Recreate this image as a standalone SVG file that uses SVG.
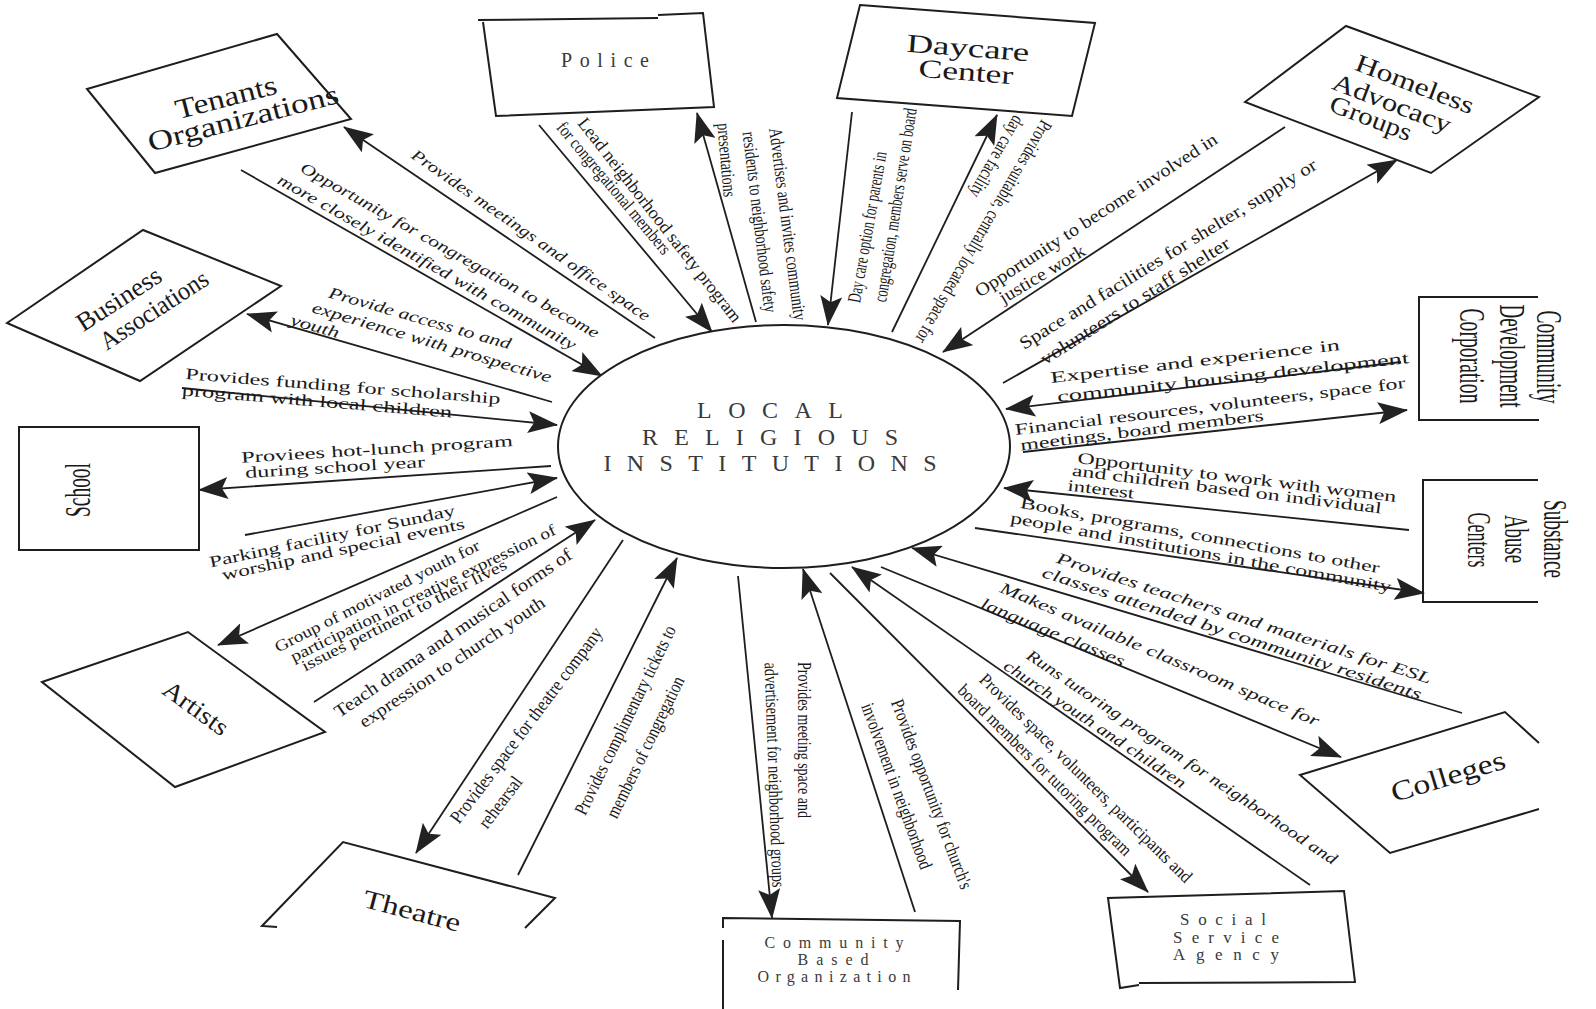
<svg xmlns="http://www.w3.org/2000/svg" width="1596" height="1009" viewBox="0 0 1596 1009">
<style>
.bg{fill:#fff}
.shape{fill:#fff;stroke:#1e1e1e;stroke-width:2}
.open{fill:none;stroke:#1e1e1e;stroke-width:2}
.edge{fill:none;stroke:#1e1e1e;stroke-width:1.8}
.arr{marker-end:url(#ah)}
text{font-family:"Liberation Serif","Times New Roman",serif;fill:#1a1a1a}
.nt{text-anchor:middle;dominant-baseline:central}
.sp{text-anchor:middle;fill:#3a3a3a}
.lab{text-anchor:middle;dominant-baseline:central}
.li{font-size:16px;font-style:italic}
.lu{font-size:16px}
.ld{font-size:18px}
.ls{font-size:19px}
</style>
<defs>
<marker id="ah" markerUnits="userSpaceOnUse" markerWidth="30" markerHeight="22" viewBox="0 0 30 22" refX="29" refY="11" orient="auto">
<path d="M0,0 L30,11 L0,22 L6,11 Z" fill="#222"/>
</marker>
</defs>
<rect class="bg" x="0" y="0" width="1596" height="1009"/>

<g id="connectors">
<path class="edge arr" d="M655,338 L344,127"/>
<path class="edge arr" d="M241,170 L602,376"/>
<path class="edge arr" d="M552,402 L247,314"/>
<path class="edge arr" d="M182,388 L557,425"/>
<path class="edge arr" d="M551,466 L199,490"/>
<path class="edge arr" d="M245,535 L557,478"/>
<path class="edge arr" d="M557,497 L218,645"/>
<path class="edge arr" d="M314,702 L595,520"/>
<path class="edge arr" d="M623,540 L416,853"/>
<path class="edge arr" d="M518,875 L677,558"/>
<path class="edge arr" d="M738,576 L772,918"/>
<path class="edge arr" d="M915,912 L803,569"/>
<path class="edge arr" d="M1310,885 L852,567"/>
<path class="edge arr" d="M830,573 L1148,892"/>
<path class="edge arr" d="M1462,713 L912,548"/>
<path class="edge arr" d="M881,567 L1341,757"/>
<path class="edge arr" d="M1409,530 L1004,488"/>
<path class="edge arr" d="M975,528 L1424,593"/>
<path class="edge arr" d="M1401,362 L1006,409"/>
<path class="edge arr" d="M1023,452 L1407,410"/>
<path class="edge arr" d="M1285,127 L943,352"/>
<path class="edge arr" d="M1003,383 L1397,160"/>
<path class="edge arr" d="M852,112 L828,325"/>
<path class="edge arr" d="M892,332 L997,115"/>
<path class="edge arr" d="M539,125 L712,332"/>
<path class="edge arr" d="M756,322 L697,113"/>
</g>

<g id="labels">
<text class="lab li" transform="translate(531,235) rotate(35)" textLength="287" lengthAdjust="spacingAndGlyphs">Provides meetings and office space</text>
<text class="lab li" transform="translate(450,250) rotate(29.5)" textLength="340" lengthAdjust="spacingAndGlyphs">Opportunity for congregation to become</text>
<text class="lab li" transform="translate(427,262) rotate(29.5)" textLength="340" lengthAdjust="spacingAndGlyphs">more closely identified with community</text>
<text class="lab li" transform="translate(420,318) rotate(16)" textLength="189" lengthAdjust="spacingAndGlyphs">Provide access to and</text>
<text class="lab li" transform="translate(432,342) rotate(16.5)" textLength="249" lengthAdjust="spacingAndGlyphs">experience with prospective</text>
<text class="lab li" transform="translate(315,326) rotate(16)" textLength="50" lengthAdjust="spacingAndGlyphs">youth</text>
<text class="lab lu" transform="translate(343,386) rotate(4.5)" textLength="316" lengthAdjust="spacingAndGlyphs">Provides funding for scholarship</text>
<text class="lab lu" transform="translate(317,401) rotate(4.7)" textLength="271" lengthAdjust="spacingAndGlyphs">program with local children</text>
<text class="lab lu" transform="translate(377,449) rotate(-3.5)" textLength="272" lengthAdjust="spacingAndGlyphs">Proviees hot-lunch program</text>
<text class="lab lu" transform="translate(335,467) rotate(-3.5)" textLength="180" lengthAdjust="spacingAndGlyphs">during school year</text>
<text class="lab lu" transform="translate(332,536) rotate(-12)" textLength="251" lengthAdjust="spacingAndGlyphs">Parking facility for Sunday</text>
<text class="lab lu" transform="translate(343,549) rotate(-12)" textLength="248" lengthAdjust="spacingAndGlyphs">worship and special events</text>
<text class="lab lu" transform="translate(377,596) rotate(-27)" textLength="228" lengthAdjust="spacingAndGlyphs">Group of motivated youth for</text>
<text class="lab lu" transform="translate(423,593) rotate(-26)" textLength="293" lengthAdjust="spacingAndGlyphs">participation in creative expression of</text>
<text class="lab lu" transform="translate(404,615) rotate(-27)" textLength="228" lengthAdjust="spacingAndGlyphs">issues pertinent to their lives</text>
<text class="lab ld" transform="translate(453,633) rotate(-34.5)" textLength="284" lengthAdjust="spacingAndGlyphs">Teach drama and musical forms of</text>
<text class="lab ld" transform="translate(452,662) rotate(-34)" textLength="220" lengthAdjust="spacingAndGlyphs">expression to church youth</text>
<text class="lab ls" transform="translate(526,725) rotate(-53)" textLength="240" lengthAdjust="spacingAndGlyphs">Provides space for theatre company</text>
<text class="lab ls" transform="translate(500,802) rotate(-53)" textLength="60" lengthAdjust="spacingAndGlyphs">rehearsal</text>
<text class="lab ls" transform="translate(625,720) rotate(-64)" textLength="208" lengthAdjust="spacingAndGlyphs">Provides complimentary tickets to</text>
<text class="lab ls" transform="translate(645,747) rotate(-64)" textLength="155" lengthAdjust="spacingAndGlyphs">members of congregation</text>
<text class="lab ls" transform="translate(804,740) rotate(90)" textLength="156" lengthAdjust="spacingAndGlyphs">Provides meeting space and</text>
<text class="lab ls" transform="translate(775,775) rotate(88)" textLength="225" lengthAdjust="spacingAndGlyphs">advertisement for neighborhood groups</text>
<text class="lab ls" transform="translate(932,794) rotate(69.5)" textLength="201" lengthAdjust="spacingAndGlyphs">Provides opportunity for church's</text>
<text class="lab ls" transform="translate(897,786) rotate(70)" textLength="175" lengthAdjust="spacingAndGlyphs">involvement in neighborhood</text>
<text class="lab ld" transform="translate(1086,778) rotate(44.5)" textLength="290" lengthAdjust="spacingAndGlyphs">Provides space, volunteers, participants and</text>
<text class="lab ld" transform="translate(1045,770) rotate(44.5)" textLength="236" lengthAdjust="spacingAndGlyphs">board members for tutoring program</text>
<text class="lab li" transform="translate(1182,757) rotate(34)" textLength="371" lengthAdjust="spacingAndGlyphs">Runs tutoring program for neighborhood and</text>
<text class="lab li" transform="translate(1095,724) rotate(34)" textLength="216" lengthAdjust="spacingAndGlyphs">church youth and children</text>
<text class="lab li" transform="translate(1244,618) rotate(18)" textLength="393" lengthAdjust="spacingAndGlyphs">Provides teachers and materials for ESL</text>
<text class="lab li" transform="translate(1232,633) rotate(18)" textLength="398" lengthAdjust="spacingAndGlyphs">classes attended by community residents</text>
<text class="lab li" transform="translate(1160,654) rotate(23)" textLength="345" lengthAdjust="spacingAndGlyphs">Makes available classroom space for</text>
<text class="lab li" transform="translate(1053,632) rotate(22.5)" textLength="154" lengthAdjust="spacingAndGlyphs">language classes</text>
<text class="lab lu" transform="translate(1237,477) rotate(7)" textLength="321" lengthAdjust="spacingAndGlyphs">Opportunity to work with women</text>
<text class="lab lu" transform="translate(1227,489) rotate(7)" textLength="312" lengthAdjust="spacingAndGlyphs">and children based on individual</text>
<text class="lab lu" transform="translate(1101,489) rotate(7)" textLength="67" lengthAdjust="spacingAndGlyphs">interest</text>
<text class="lab lu" transform="translate(1200,535) rotate(10.3)" textLength="365" lengthAdjust="spacingAndGlyphs">Books, programs, connections to other</text>
<text class="lab lu" transform="translate(1201,552) rotate(10.3)" textLength="387" lengthAdjust="spacingAndGlyphs">people and institutions in the community</text>
<text class="lab lu" transform="translate(1195,361) rotate(-6.5)" textLength="291" lengthAdjust="spacingAndGlyphs">Expertise and experience in</text>
<text class="lab lu" transform="translate(1233,377) rotate(-6.3)" textLength="354" lengthAdjust="spacingAndGlyphs">community housing development</text>
<text class="lab lu" transform="translate(1210,406) rotate(-6.9)" textLength="393" lengthAdjust="spacingAndGlyphs">Financial resources, volunteers, space for</text>
<text class="lab lu" transform="translate(1142,430) rotate(-7)" textLength="245" lengthAdjust="spacingAndGlyphs">meetings, board members</text>
<text class="lab ld" transform="translate(1096,215) rotate(-33)" textLength="285" lengthAdjust="spacingAndGlyphs">Opportunity to become involved in</text>
<text class="lab ld" transform="translate(1042,274) rotate(-31)" textLength="97" lengthAdjust="spacingAndGlyphs">justice work</text>
<text class="lab ld" transform="translate(1168,254) rotate(-31.7)" textLength="346" lengthAdjust="spacingAndGlyphs">Space and facilities for shelter, supply or</text>
<text class="lab ld" transform="translate(1135,301) rotate(-32.5)" textLength="221" lengthAdjust="spacingAndGlyphs">volunteers to staff shelter</text>
<text class="lab ls" transform="translate(867,227) rotate(-80)" textLength="153" lengthAdjust="spacingAndGlyphs">Day care option for parents in</text>
<text class="lab ls" transform="translate(895,205) rotate(-81)" textLength="196" lengthAdjust="spacingAndGlyphs">congregation, members serve on board</text>
<text class="lab ls" transform="translate(984,232) rotate(120)" textLength="254" lengthAdjust="spacingAndGlyphs">Provides suitable, centrally located space for</text>
<text class="lab ls" transform="translate(997,157) rotate(120)" textLength="91" lengthAdjust="spacingAndGlyphs">day care facility</text>
<text class="lab ld" transform="translate(660,220) rotate(52)" textLength="254" lengthAdjust="spacingAndGlyphs">Lead neighborhood safety program</text>
<text class="lab ld" transform="translate(614,188) rotate(50)" textLength="167" lengthAdjust="spacingAndGlyphs">for congregational members</text>
<text class="lab ls" transform="translate(788,224) rotate(82.6)" textLength="194" lengthAdjust="spacingAndGlyphs">Advertises and invites community</text>
<text class="lab ls" transform="translate(760,222) rotate(83)" textLength="182" lengthAdjust="spacingAndGlyphs">residents to neighborhood safety</text>
<text class="lab ls" transform="translate(727,160) rotate(85)" textLength="74" lengthAdjust="spacingAndGlyphs">presentations</text>
</g>

<g id="node-center">
<ellipse class="shape" cx="784" cy="446.5" rx="226" ry="121.5"/>
<text class="sp" x="770" y="418" font-size="24" textLength="146" lengthAdjust="spacing">LOCAL</text>
<text class="sp" x="770" y="445" font-size="24" textLength="256" lengthAdjust="spacing">RELIGIOUS</text>
<text class="sp" x="770" y="471" font-size="24" textLength="333" lengthAdjust="spacing">INSTITUTIONS</text>
</g>

<g id="node-tenants">
<polygon class="shape" points="87,89 277,34 351,119 155,173"/>
<text class="nt" font-size="28" transform="translate(226,97) rotate(-14.5)" textLength="104" lengthAdjust="spacingAndGlyphs">Tenants</text>
<text class="nt" font-size="28" transform="translate(243,118) rotate(-14.5)" textLength="196" lengthAdjust="spacingAndGlyphs">Organizations</text>
</g>

<g id="node-business">
<polygon class="shape" points="7,323 143,230 281,286 140,381"/>
<text class="nt" font-size="26" transform="translate(119,299) rotate(-33)" textLength="96" lengthAdjust="spacingAndGlyphs">Business</text>
<text class="nt" font-size="26" transform="translate(154,310) rotate(-33)" textLength="124" lengthAdjust="spacingAndGlyphs">Associations</text>
</g>

<g id="node-police">
<path class="open" d="M478,20 L658,18"/>
<path class="open" d="M658,15 L703,13 L714,107 L496,116 L483,22"/>
<text class="sp" x="605" y="67" font-size="20" textLength="88" lengthAdjust="spacing">Police</text>
</g>

<g id="node-daycare">
<polygon class="shape" points="860,5 1095,23 1072,116 837,98"/>
<text class="nt" font-size="26" transform="translate(968,48) rotate(4.4)" textLength="123" lengthAdjust="spacingAndGlyphs">Daycare</text>
<text class="nt" font-size="26" transform="translate(966,72) rotate(4.4)" textLength="95" lengthAdjust="spacingAndGlyphs">Center</text>
</g>

<g id="node-homeless">
<polygon class="shape" points="1245,102 1346,26 1539,97 1431,173"/>
<text class="nt" font-size="25" transform="translate(1415,84) rotate(21)" textLength="125" lengthAdjust="spacingAndGlyphs">Homeless</text>
<text class="nt" font-size="25" transform="translate(1392,103) rotate(21)" textLength="125" lengthAdjust="spacingAndGlyphs">Advocacy</text>
<text class="nt" font-size="25" transform="translate(1371,118) rotate(21)" textLength="86" lengthAdjust="spacingAndGlyphs">Groups</text>
</g>

<g id="node-cdc">
<path class="open" d="M1538,297 L1419,297 L1419,420 L1539,420"/>
<text class="nt" font-size="36" transform="translate(1549,357) rotate(90)" textLength="93" lengthAdjust="spacingAndGlyphs">Community</text>
<text class="nt" font-size="36" transform="translate(1512,356) rotate(90)" textLength="103" lengthAdjust="spacingAndGlyphs">Development</text>
<text class="nt" font-size="36" transform="translate(1472,356) rotate(90)" textLength="95" lengthAdjust="spacingAndGlyphs">Corporation</text>
</g>

<g id="node-substance">
<path class="open" d="M1538,480 L1423,480 L1423,602 L1538,602"/>
<text class="nt" font-size="34" transform="translate(1555,539) rotate(90)" textLength="78" lengthAdjust="spacingAndGlyphs">Substance</text>
<text class="nt" font-size="34" transform="translate(1516,539) rotate(90)" textLength="48" lengthAdjust="spacingAndGlyphs">Abuse</text>
<text class="nt" font-size="34" transform="translate(1479,540) rotate(90)" textLength="55" lengthAdjust="spacingAndGlyphs">Centers</text>
</g>

<g id="node-school">
<rect class="shape" x="19" y="427" width="180" height="123"/>
<text class="nt" font-size="36" transform="translate(78,490) rotate(-90)" textLength="54" lengthAdjust="spacingAndGlyphs">School</text>
</g>

<g id="node-artists">
<polygon class="shape" points="42,682 188,632 325,732 175,787"/>
<text class="nt" font-size="25" transform="translate(196,708) rotate(36)" textLength="75" lengthAdjust="spacingAndGlyphs">Artists</text>
</g>

<g id="node-theatre">
<path class="open" d="M277,927 L262,926 L343,842 L555,898 L525,928"/>
<text class="nt" font-size="26" transform="translate(412,911) rotate(14.8)" textLength="100" lengthAdjust="spacingAndGlyphs">Theatre</text>
</g>

<g id="node-cbo">
<path class="open" d="M723,928 L723,918 L960,921 L958,990"/>
<path class="open" d="M723,940 L723,1009"/>
<text class="sp" x="834" y="948" font-size="16" textLength="139" lengthAdjust="spacing">Community</text>
<text class="sp" x="833" y="965" font-size="16" textLength="71" lengthAdjust="spacing">Based</text>
<text class="sp" x="834" y="982" font-size="16" textLength="153" lengthAdjust="spacing">Organization</text>
</g>

<g id="node-social">
<path class="open" d="M1139,985 L1120,988 L1108,898 L1344,891 L1355,982 L1139,983"/>
<text class="sp" x="1223" y="925" font-size="17" textLength="86" lengthAdjust="spacing">Social</text>
<text class="sp" x="1226" y="943" font-size="17" textLength="106" lengthAdjust="spacing">Service</text>
<text class="sp" x="1226" y="960" font-size="17" textLength="106" lengthAdjust="spacing">Agency</text>
</g>

<g id="node-colleges">
<path class="open" d="M1539,743 L1505,712 L1300,775 L1390,853 L1539,809"/>
<text class="nt" font-size="28" transform="translate(1448,776) rotate(-17)" textLength="118" lengthAdjust="spacingAndGlyphs">Colleges</text>
</g>
</svg>
